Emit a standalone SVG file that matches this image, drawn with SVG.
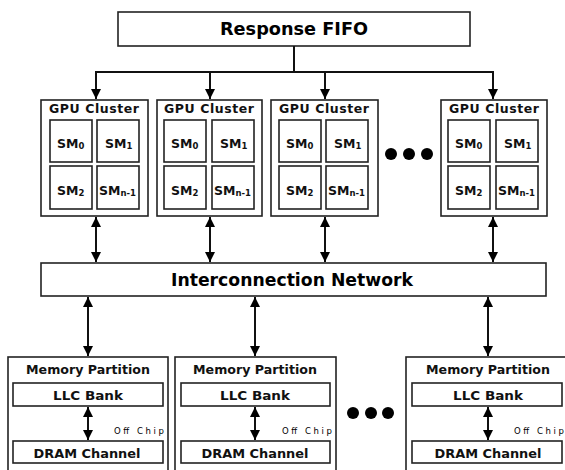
<svg xmlns="http://www.w3.org/2000/svg" width="565" height="470" viewBox="0 0 565 470">
  <defs>
    <marker id="head" viewBox="0 0 10 10" refX="10" refY="5" markerWidth="10" markerHeight="10" markerUnits="userSpaceOnUse" orient="auto-start-reverse">
      <path d="M0,0 L10,5 L0,10 Z" fill="#000"/>
    </marker>
    <style>
      .box { fill: #fff; stroke: #222; stroke-width: 1.6; }
      .sm { fill: #fff; stroke: #222; stroke-width: 1.6; }
      .wire { fill: none; stroke: #111; stroke-width: 2; }
      .arr { fill: none; stroke: #111; stroke-width: 2; marker-end: url(#head); }
      .bi { fill: none; stroke: #111; stroke-width: 2; marker-start: url(#head); marker-end: url(#head); }
      .big { font-family: "DejaVu Sans", "Liberation Sans", sans-serif; font-weight: bold; font-size: 17px; fill: #000; text-anchor: middle; }
      .lbl { font-family: "DejaVu Sans", "Liberation Sans", sans-serif; font-weight: bold; font-size: 12.5px; fill: #111; }
      .mid { text-anchor: middle; }
      .sub { font-size: 8.5px; }
      .tiny { font-family: "DejaVu Sans", "Liberation Sans", sans-serif; font-size: 8.5px; fill: #000; }
      .dot { fill: #000; }
    </style>
  </defs>

  <!-- Response FIFO -->
  <g id="response-fifo">
    <rect class="box" x="118" y="12" width="352" height="34"/>
    <text class="big" x="294" y="35" textLength="148" lengthAdjust="spacingAndGlyphs">Response FIFO</text>
  </g>

  <!-- GPU clusters -->
  <g id="gpu-cluster-1" transform="translate(41,100)">
    <rect class="box" x="0" y="0" width="107" height="116"/>
    <text class="lbl" x="8" y="13" textLength="90" lengthAdjust="spacing">GPU Cluster</text>
    <rect class="sm" x="9" y="20" width="42" height="42"/>
    <rect class="sm" x="56" y="20" width="42" height="42"/>
    <rect class="sm" x="9" y="66" width="42" height="43"/>
    <rect class="sm" x="56" y="66" width="42" height="43"/>
    <text class="lbl" x="16" y="48">SM<tspan class="sub" dy="1">0</tspan></text>
    <text class="lbl" x="64" y="48">SM<tspan class="sub" dy="1">1</tspan></text>
    <text class="lbl" x="16" y="95">SM<tspan class="sub" dy="1">2</tspan></text>
    <text class="lbl" x="58" y="95">SM<tspan class="sub" dy="1">n-1</tspan></text>
  </g>
  <g id="gpu-cluster-2" transform="translate(157,100)">
    <rect class="box" x="0" y="0" width="105" height="116"/>
    <text class="lbl" x="7" y="13" textLength="90" lengthAdjust="spacing">GPU Cluster</text>
    <rect class="sm" x="7" y="20" width="42" height="42"/>
    <rect class="sm" x="55" y="20" width="42" height="42"/>
    <rect class="sm" x="7" y="66" width="42" height="43"/>
    <rect class="sm" x="55" y="66" width="42" height="43"/>
    <text class="lbl" x="14" y="48">SM<tspan class="sub" dy="1">0</tspan></text>
    <text class="lbl" x="63" y="48">SM<tspan class="sub" dy="1">1</tspan></text>
    <text class="lbl" x="14" y="95">SM<tspan class="sub" dy="1">2</tspan></text>
    <text class="lbl" x="57" y="95">SM<tspan class="sub" dy="1">n-1</tspan></text>
  </g>
  <g id="gpu-cluster-3" transform="translate(271,100)">
    <rect class="box" x="0" y="0" width="107" height="116"/>
    <text class="lbl" x="8" y="13" textLength="90" lengthAdjust="spacing">GPU Cluster</text>
    <rect class="sm" x="8" y="20" width="42" height="42"/>
    <rect class="sm" x="55" y="20" width="42" height="42"/>
    <rect class="sm" x="8" y="66" width="42" height="43"/>
    <rect class="sm" x="55" y="66" width="42" height="43"/>
    <text class="lbl" x="15" y="48">SM<tspan class="sub" dy="1">0</tspan></text>
    <text class="lbl" x="63" y="48">SM<tspan class="sub" dy="1">1</tspan></text>
    <text class="lbl" x="15" y="95">SM<tspan class="sub" dy="1">2</tspan></text>
    <text class="lbl" x="57" y="95">SM<tspan class="sub" dy="1">n-1</tspan></text>
  </g>
  <g id="gpu-cluster-4" transform="translate(441,100)">
    <rect class="box" x="0" y="0" width="106" height="116"/>
    <text class="lbl" x="8" y="13" textLength="90" lengthAdjust="spacing">GPU Cluster</text>
    <rect class="sm" x="7" y="20" width="42" height="42"/>
    <rect class="sm" x="55" y="20" width="42" height="42"/>
    <rect class="sm" x="7" y="66" width="42" height="43"/>
    <rect class="sm" x="55" y="66" width="42" height="43"/>
    <text class="lbl" x="14" y="48">SM<tspan class="sub" dy="1">0</tspan></text>
    <text class="lbl" x="63" y="48">SM<tspan class="sub" dy="1">1</tspan></text>
    <text class="lbl" x="14" y="95">SM<tspan class="sub" dy="1">2</tspan></text>
    <text class="lbl" x="57" y="95">SM<tspan class="sub" dy="1">n-1</tspan></text>
  </g>

  <!-- ellipsis between clusters -->
  <g id="cluster-ellipsis">
    <circle class="dot" cx="391" cy="154" r="6"/>
    <circle class="dot" cx="409" cy="154" r="6"/>
    <circle class="dot" cx="427" cy="154" r="6"/>
  </g>

  <!-- Interconnection network -->
  <g id="interconnect">
    <rect class="box" x="41" y="263" width="505" height="33"/>
    <text class="big" x="292" y="286" textLength="242" lengthAdjust="spacingAndGlyphs">Interconnection Network</text>
  </g>

  <!-- Memory partitions -->
  <g id="memory-partition-1" transform="translate(8,357)">
    <rect class="box" x="0" y="0" width="160" height="120"/>
    <text class="lbl mid" x="80" y="17" textLength="124" lengthAdjust="spacingAndGlyphs">Memory Partition</text>
    <rect class="sm" x="5" y="26" width="150" height="23"/>
    <text class="lbl mid" x="80" y="43" textLength="70" lengthAdjust="spacingAndGlyphs">LLC Bank</text>
    <rect class="sm" x="5" y="84" width="150" height="22"/>
    <text class="lbl mid" x="79" y="101" textLength="107" lengthAdjust="spacingAndGlyphs">DRAM Channel</text>
    <text class="tiny" x="106" y="77" textLength="50" lengthAdjust="spacing">Off Chip</text>
  </g>
  <g id="memory-partition-2" transform="translate(175,357)">
    <rect class="box" x="0" y="0" width="161" height="120"/>
    <text class="lbl mid" x="80" y="17" textLength="124" lengthAdjust="spacingAndGlyphs">Memory Partition</text>
    <rect class="sm" x="6" y="26" width="149" height="23"/>
    <text class="lbl mid" x="80" y="43" textLength="70" lengthAdjust="spacingAndGlyphs">LLC Bank</text>
    <rect class="sm" x="6" y="84" width="149" height="22"/>
    <text class="lbl mid" x="80" y="101" textLength="107" lengthAdjust="spacingAndGlyphs">DRAM Channel</text>
    <text class="tiny" x="107" y="77" textLength="50" lengthAdjust="spacing">Off Chip</text>
  </g>
  <g id="memory-partition-3" transform="translate(406,357)">
    <rect class="box" x="0" y="0" width="162" height="120"/>
    <text class="lbl mid" x="82" y="17" textLength="124" lengthAdjust="spacingAndGlyphs">Memory Partition</text>
    <rect class="sm" x="6" y="26" width="150" height="23"/>
    <text class="lbl mid" x="82" y="43" textLength="70" lengthAdjust="spacingAndGlyphs">LLC Bank</text>
    <rect class="sm" x="6" y="84" width="150" height="22"/>
    <text class="lbl mid" x="82" y="101" textLength="107" lengthAdjust="spacingAndGlyphs">DRAM Channel</text>
    <text class="tiny" x="108" y="77" textLength="50" lengthAdjust="spacing">Off Chip</text>
  </g>

  <!-- ellipsis between partitions -->
  <g id="partition-ellipsis">
    <circle class="dot" cx="353" cy="413" r="6"/>
    <circle class="dot" cx="371" cy="413" r="6"/>
    <circle class="dot" cx="388" cy="413" r="6"/>
  </g>

  <!-- Connectors -->
  <g id="connectors">
    <!-- FIFO fan-out -->
    <path class="wire" d="M294,46 V72 M95,72 H494"/>
    <path class="arr" d="M96,72 V99"/>
    <path class="arr" d="M210,72 V99"/>
    <path class="arr" d="M325,72 V99"/>
    <path class="arr" d="M493,72 V99"/>
    <!-- clusters to network -->
    <path class="bi" d="M96,217 V262"/>
    <path class="bi" d="M210,217 V262"/>
    <path class="bi" d="M325,217 V262"/>
    <path class="bi" d="M493,217 V262"/>
    <!-- network to partitions -->
    <path class="bi" d="M88,297 V356"/>
    <path class="bi" d="M255,297 V356"/>
    <path class="bi" d="M488,297 V356"/>
    <!-- LLC to DRAM -->
    <path class="bi" d="M88,407 V440"/>
    <path class="bi" d="M255,407 V440"/>
    <path class="bi" d="M488,407 V440"/>
  </g>
</svg>
